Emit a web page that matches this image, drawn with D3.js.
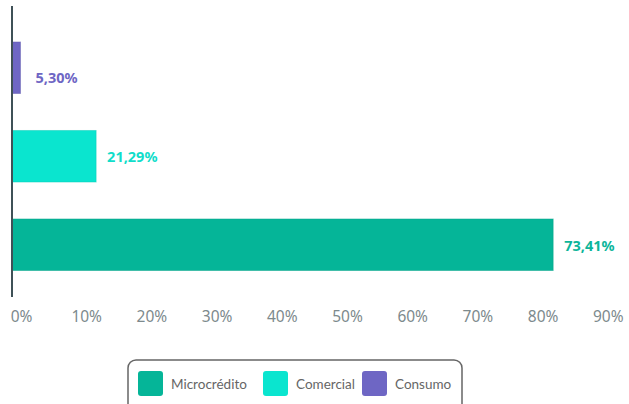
<!DOCTYPE html>
<html><head><meta charset="utf-8">
<script src="https://cdn.jsdelivr.net/npm/d3@7"></script>
<style>
html,body{margin:0;padding:0;background:#fff;}
svg{display:block;font-family:"Noto Sans","Open Sans",sans-serif;}
</style></head>
<body>
<svg id="chart" width="629" height="404"></svg>
<script>
// Data
const categories = ["Consumo", "Comercial", "Microcrédito"];
const barLengths = [1.3, 12.9, 83.0];           // bar extent as drawn on the axis (%)
const labelValues = [5.30, 21.29, 73.41];        // printed value labels (%)
const colors = ["#6e66c4", "#0ae5cf", "#05b598"];
const labelColors = ["#6e66c4", "#10ddca", "#0db59a"];
const xTicks = [0, 10, 20, 30, 40, 50, 60, 70, 80, 90];
const legendItems = ["Microcrédito", "Comercial", "Consumo"];
const legendColors = ["#05b598", "#0ae5cf", "#6e66c4"];

const svg = d3.select("#chart");
const x = d3.scaleLinear().domain([0, 90]).range([12, 598.8]);
const y = d3.scaleBand().domain(categories).range([23.5, 289]).paddingInner(0.418).paddingOuter(0.209);

// bars
svg.selectAll("rect.bar").data(categories).join("rect")
  .attr("class", "bar")
  .attr("x", x(0))
  .attr("y", d => y(d))
  .attr("width", (d, i) => x(barLengths[i]) - x(0))
  .attr("height", y.bandwidth())
  .attr("fill", (d, i) => colors[i])
  .attr("stroke", (d, i) => d3.color(colors[i]).darker(0.3))
  .attr("stroke-opacity", 0.5)
  .attr("stroke-width", 1);

// value labels
const fmt = v => v.toFixed(2).replace(".", ",") + "%";
svg.selectAll("text.val").data(categories).join("text")
  .attr("class", "val")
  .attr("x", (d, i) => x(barLengths[i]) + (i === 0 ? 15 : 11))
  .attr("y", (d, i) => y(d) + y.bandwidth() / 2 + (i === 0 ? 9 : 0))
  .attr("dominant-baseline", "central")
  .attr("font-size", 14.5)
  .attr("font-weight", "bold")
  .attr("fill", (d, i) => labelColors[i])
  .text((d, i) => fmt(labelValues[i]));

// y axis line
svg.append("line")
  .attr("x1", x(0)).attr("x2", x(0))
  .attr("y1", 6).attr("y2", 297)
  .attr("stroke", "#3f5157").attr("stroke-width", 2);

// x tick labels
const xAxis = d3.axisBottom(x).tickValues(xTicks).tickSize(0).tickFormat(d => d + "%");
const gx = svg.append("g").attr("transform", "translate(9,308)").call(xAxis);
gx.select(".domain").remove();
gx.selectAll("text").attr("font-size", 15.5).attr("fill", "#7d8a8d")
  .attr("font-family", "\"Noto Sans\",sans-serif");

// legend
const lg = svg.append("g");
lg.append("rect").attr("x", 128).attr("y", 360).attr("width", 334).attr("height", 60)
  .attr("rx", 8).attr("fill", "#fff").attr("stroke", "#666").attr("stroke-width", 1.5);
const swX = [138, 263, 362];
legendItems.forEach((name, i) => {
  lg.append("rect").attr("x", swX[i]).attr("y", 371).attr("width", 25).attr("height", 25)
    .attr("rx", 3).attr("fill", legendColors[i]);
  lg.append("text").attr("x", swX[i] + 33).attr("y", 383.5)
    .attr("dominant-baseline", "central")
    .attr("font-size", 13.5).attr("fill", "#666")
    .attr("font-family", "Lato, sans-serif")
    .text(name);
});
</script>
</body></html>
